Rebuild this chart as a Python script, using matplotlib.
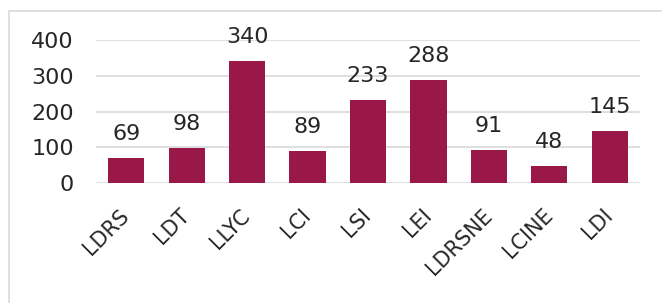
import matplotlib.pyplot as plt
import matplotlib.transforms as mtransforms
from matplotlib.patches import Rectangle

categories = ['LDRS', 'LDT', 'LLYC', 'LCI', 'LSI', 'LEI', 'LDRSNE', 'LCINE', 'LDI']
values = [69, 98, 340, 89, 233, 288, 91, 48, 145]
yticks = [0, 100, 200, 300, 400]

plt.rcParams['font.family'] = ['DejaVu Sans']
txt_color = '#262626'

fig = plt.figure(figsize=(6.62, 3.03), dpi=100)
# light frame around the chart (cut off on right and bottom like the original)
fig.patches.append(Rectangle((9 / 662, -0.05), 1.0, 1 - 11 / 303 + 0.05,
                             transform=fig.transFigure, fill=False,
                             edgecolor='#D9D9D9', linewidth=1.2))

ax = fig.add_axes([96 / 662, 1 - 183 / 303, (640 - 96) / 662, (183 - 40) / 303])
x = range(len(categories))
bars = ax.bar(x, values, width=0.6, color='#9A1848', zorder=3)
for b, v in zip(bars, values):
    ax.annotate(str(v), (b.get_x() + b.get_width() / 2, v), xytext=(0, 13),
                textcoords='offset points', ha='center', va='baseline',
                fontsize=16, color=txt_color)

ax.set_xlim(-0.5, len(categories) - 0.5)
ax.set_ylim(0, 400)
ax.set_yticks(yticks)
ax.set_yticklabels([str(t) for t in yticks], fontsize=16, color=txt_color)
ax.set_xticks(list(x))
ax.set_xticklabels(categories, rotation=45, ha='right', rotation_mode='anchor',
                   fontsize=15, color=txt_color)
ax.tick_params(axis='y', length=0, pad=16)
ax.tick_params(axis='x', length=0, pad=16)
shift = mtransforms.ScaledTranslation(-7 / 100, 0, fig.dpi_scale_trans)
for lab in ax.get_xticklabels():
    lab.set_transform(lab.get_transform() + shift)
ax.grid(axis='y', color='#D9D9D9', linewidth=1.2, zorder=0)
for s in ax.spines.values():
    s.set_visible(False)

fig.savefig('out.png', dpi=100)
